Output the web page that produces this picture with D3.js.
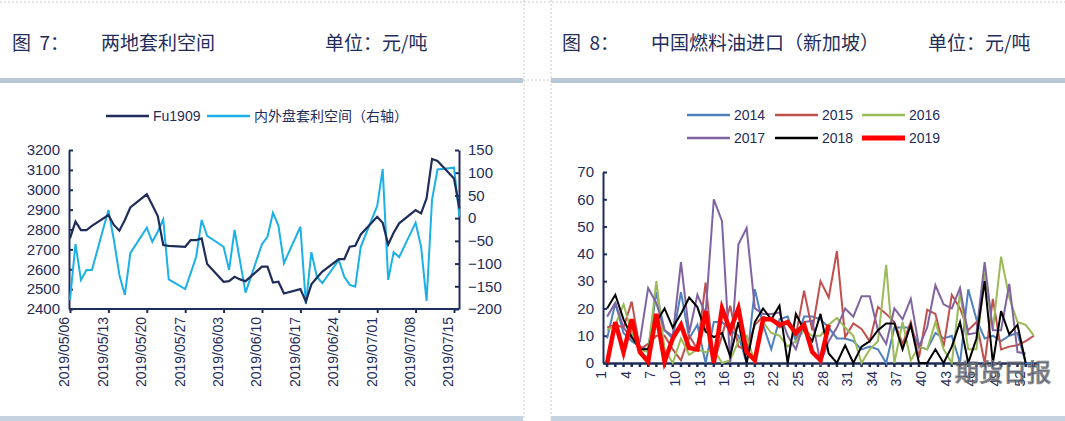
<!DOCTYPE html>
<html><head><meta charset="utf-8">
<script src="https://cdn.jsdelivr.net/npm/d3@7"></script>
<style>
body{margin:0;background:#fff;font-family:"Liberation Sans",Arial,sans-serif;}
svg text{fill:#1f2d5a;}
</style></head>
<body><svg id="c" width="1065" height="421"></svg>
<script>
// left chart: Fu1909 vs arbitrage spread
let dates = ["05/06","05/07","05/08","05/09","05/10","05/13","05/14","05/15","05/16","05/17",
  "05/20","05/21","05/22","05/23","05/24","05/27","05/28","05/29","05/30","05/31",
  "06/03","06/04","06/05","06/06","06/07","06/10","06/11","06/12","06/13","06/14",
  "06/17","06/18","06/19","06/20","06/21","06/24","06/25","06/26","06/27","06/28",
  "07/01","07/02","07/03","07/04","07/05","07/08","07/09","07/10","07/11","07/12",
  "07/15","07/16"];
let fu1909 = [2755,2840,2797,2797,2818,2873,2823,2794,2848,2911,
  2977,2923,2868,2722,2718,2713,2747,2747,2755,2626,
  2537,2540,2562,2549,2540,2613,2613,2533,2537,2478,
  2500,2437,2524,2557,2588,2651,2651,2713,2718,2775,
  2864,2834,2725,2784,2831,2898,2881,2957,3155,3145,
  3057,2906];
let spread = [-180,-57,-136,-114,-114,18,-48,-125,-169,-77,
  -21,-52,-30,-3,-135,-156,-121,-85,-4,-39,
  -63,-114,-26,-95,-164,-57,-41,12,-17,-99,
  -19,-189,-75,-129,-143,-92,-129,-147,-151,-63,
  27,108,-136,-75,-86,-10,-63,-182,41,107,
  111,3];
let dateTicks = ["05/06","05/13","05/20","05/27","06/03","06/10","06/17","06/24","07/01","07/08","07/15"];
let leftTicks = [2400,2500,2600,2700,2800,2900,3000,3100,3200];
let rightTicks = [-200,-150,-100,-50,0,50,100,150];

// right chart: weekly fuel oil imports
let weeks = d3.range(1, 54);
let y2014 = [9,22,11,8,6,5,26,12,9,26,9,14,0,15,15,12,10,0,27,14,5,16,17,8,17,17,16,13,9,9,8,5,6,5,0,13,13,13,6,5,11,9,10,0,27,16,9,10,8,10,11,0,0];
let y2015 = [13,14,13,22.5,5,7,10,10,5,1,10,5,29.5,0,10,21,6,5,14,17,16,13,15,10,26.5,12,30,24,41,9.5,14.5,12.5,8,20.5,18,15,7,15,2,19.5,18,6,25,20,12,15,0,23.5,5,6,6.5,8,10];
let y2016 = [12,14,21.5,11,5,4,30,5,0,9,3,5,4,5,0,1,8,10,0,15,11,10,6,8,12,10,10,14,16.5,13,10,0,5,8,36,0,15,1,6,5,15,5,0,26,5,5,33,12,39,24,15,14,10];
let y2017 = [17,22,13,9,8,27.5,22,12,10,37,11,25,18,60,52,0,43.5,49.5,20,18,18,18.5,10,5,15,15.5,0,8,13,20,17,24.5,24.5,12,7,20,16,23.5,6,13,28.5,21.5,20,27.5,10.5,11,37,12,12,29,4,3.5];
let y2018 = [20,25,16,9.5,5,5,15,20,13,18,24,20.5,11.5,9.5,11,2.5,15,0,15,20,16,21,0,18,12,8,18,3.5,0,6.5,0,6,8,12,14.5,14.5,5,14,0,0,5,0,6,15,0,9,30,0,19,10.5,14,0];
let y2019 = [0,15,4,16,4,0.5,18,0.5,9,14,5.5,5,19,0,20,12,20,4,1,16,16,14,15,11,14,4,1,14];
let series = [
  {name:"2014", values:y2014, color:"#4f81bd", width:2},
  {name:"2015", values:y2015, color:"#c0504d", width:2},
  {name:"2016", values:y2016, color:"#9bbb59", width:2},
  {name:"2017", values:y2017, color:"#8064a2", width:2},
  {name:"2018", values:y2018, color:"#000000", width:2},
  {name:"2019", values:y2019, color:"#ff0000", width:4.5}
];

const navy = "#1f2d5a";
const tfont = "'Liberation Sans',Arial,sans-serif";
const svg = d3.select("#c");
const parse = d3.timeParse("%Y/%m/%d");

// panel frames
svg.append("line").attr("x1",0).attr("x2",1065).attr("y1",2).attr("y2",2)
  .attr("stroke","#ccc").attr("stroke-dasharray","2,2");
[524,551].forEach(x => svg.append("line").attr("x1",x).attr("x2",x).attr("y1",0).attr("y2",421)
  .attr("stroke","#ccc").attr("stroke-dasharray","2,2"));
svg.append("line").attr("x1",523).attr("x2",551).attr("y1",80).attr("y2",80)
  .attr("stroke","#ccc").attr("stroke-dasharray","2,2");
[[0,523],[551,1065]].forEach(([a,b]) => {
  svg.append("rect").attr("x",a).attr("y",78).attr("width",b-a).attr("height",5).attr("fill","#b8c8d6");
  svg.append("rect").attr("x",a).attr("y",416).attr("width",b-a).attr("height",5).attr("fill","#c5d3e0");
});
const hfont = "'Noto Sans CJK SC',sans-serif";
function head(x, t) {
  svg.append("text").attr("x",x).attr("y",50).attr("font-family",hfont).attr("font-size",19)
    .attr("xml:space","preserve").text(t);
}
head(12, "图  7：");
head(101, "两地套利空间");
head(325, "单位：元/吨");
head(562, "图  8：");
head(651, "中国燃料油进口（新加坡）");
head(928, "单位：元/吨");

function styleAxis(g, size) {
  g.selectAll(".domain,.tick line").attr("stroke",navy).attr("stroke-width",2);
  g.selectAll(".tick text").attr("fill",navy).attr("font-family",tfont).attr("font-size",size);
}
function rotateLabels(g) {
  g.selectAll(".tick text").attr("transform","rotate(-90)").attr("text-anchor","end")
    .attr("x",-8).attr("y",-6).attr("dy","0.35em");
}

// ---- left chart
const x = d3.scaleTime().domain([parse("2019/05/06"), parse("2019/07/15")]).range([70, 454]);
const yL = d3.scaleLinear().domain([2400,3200]).range([309,150]);
const yR = d3.scaleLinear().domain([-200,150]).range([309,150]);

const gl = svg.append("g");
gl.append("g").attr("transform","translate(69,0)")
  .call(d3.axisLeft(yL).tickValues(leftTicks).tickFormat(d3.format("d")).tickSizeInner(-4).tickSizeOuter(0).tickPadding(9))
  .call(g => styleAxis(g, 15));
gl.append("g").attr("transform","translate(459,0)")
  .call(d3.axisRight(yR).tickValues(rightTicks).tickSizeInner(-4).tickSizeOuter(0).tickPadding(9))
  .call(g => styleAxis(g, 15));
gl.append("g").attr("transform","translate(0,309)")
  .call(d3.axisBottom(x).tickValues(dateTicks.map(d => parse("2019/"+d))).tickSize(4)
    .tickFormat(d3.timeFormat("%Y/%m/%d")))
  .call(g => g.select(".domain").attr("d","M69,0H459"))
  .call(g => styleAxis(g, 14))
  .call(rotateLabels);

gl.append("path").datum(spread).attr("fill","none").attr("stroke","#1cb0e8").attr("stroke-width",2)
  .attr("d", d3.line().x((d,i) => x(parse("2019/"+dates[i]))).y(d => yR(d)));
gl.append("path").datum(fu1909).attr("fill","none").attr("stroke",navy).attr("stroke-width",2.2)
  .attr("d", d3.line().x((d,i) => x(parse("2019/"+dates[i]))).y(d => yL(d)));

// legend
[["Fu1909",navy,106],["内外盘套利空间（右轴）","#1cb0e8",207]].forEach(([t,c,lx]) => {
  gl.append("line").attr("x1",lx).attr("x2",lx+43).attr("y1",116).attr("y2",116).attr("stroke",c).attr("stroke-width",2.5);
  gl.append("text").attr("x",lx+47).attr("y",121).attr("font-size",14)
    .attr("font-family","'Liberation Sans','Noto Sans CJK SC',sans-serif").attr("fill","#333").text(t);
});

// ---- right chart
const xb = d3.scaleBand().domain(weeks).range([603,1038]);
const y2 = d3.scaleLinear().domain([0,70]).range([363,172]);
const gr = svg.append("g");
gr.append("g").attr("transform","translate(603,0)")
  .call(d3.axisLeft(y2).tickValues(d3.range(0,71,10)).tickSizeInner(-4).tickSizeOuter(0).tickPadding(9))
  .call(g => styleAxis(g, 15));
gr.append("g").attr("transform","translate(0,363)")
  .call(d3.axisBottom(xb).tickSize(4).tickSizeOuter(0)
    .tickFormat(d => (d - 1) % 3 === 0 ? d : ""))
  .call(g => styleAxis(g, 14))
  .call(rotateLabels)
  .call(g => g.selectAll(".domain,.tick line").attr("stroke-width",2.5));

const line2 = d3.line().x((d,i) => xb(weeks[i]) + xb.bandwidth()/2).y(d => y2(d));
series.forEach(s => {
  gr.append("path").datum(s.values).attr("fill","none").attr("stroke",s.color)
    .attr("stroke-width",s.width).attr("d",line2);
});

series.forEach((s,i) => {
  const lx = [687,775,862][i % 3], ly = i < 3 ? 115 : 138;
  gr.append("line").attr("x1",lx).attr("x2",lx+43).attr("y1",ly).attr("y2",ly)
    .attr("stroke",s.color).attr("stroke-width",s.width === 2 ? 2.5 : 5);
  gr.append("text").attr("x",lx+47).attr("y",ly+5).attr("font-size",14)
    .attr("fill","#333").attr("font-family",tfont).text(s.name);
});

// watermark
svg.append("text").attr("x",955).attr("y",381).attr("font-family",hfont).attr("font-size",24)
  .attr("fill","#fff").attr("stroke","#777").attr("stroke-width",1.2).attr("opacity",0.85).text("期货日报");
</script></body></html>
